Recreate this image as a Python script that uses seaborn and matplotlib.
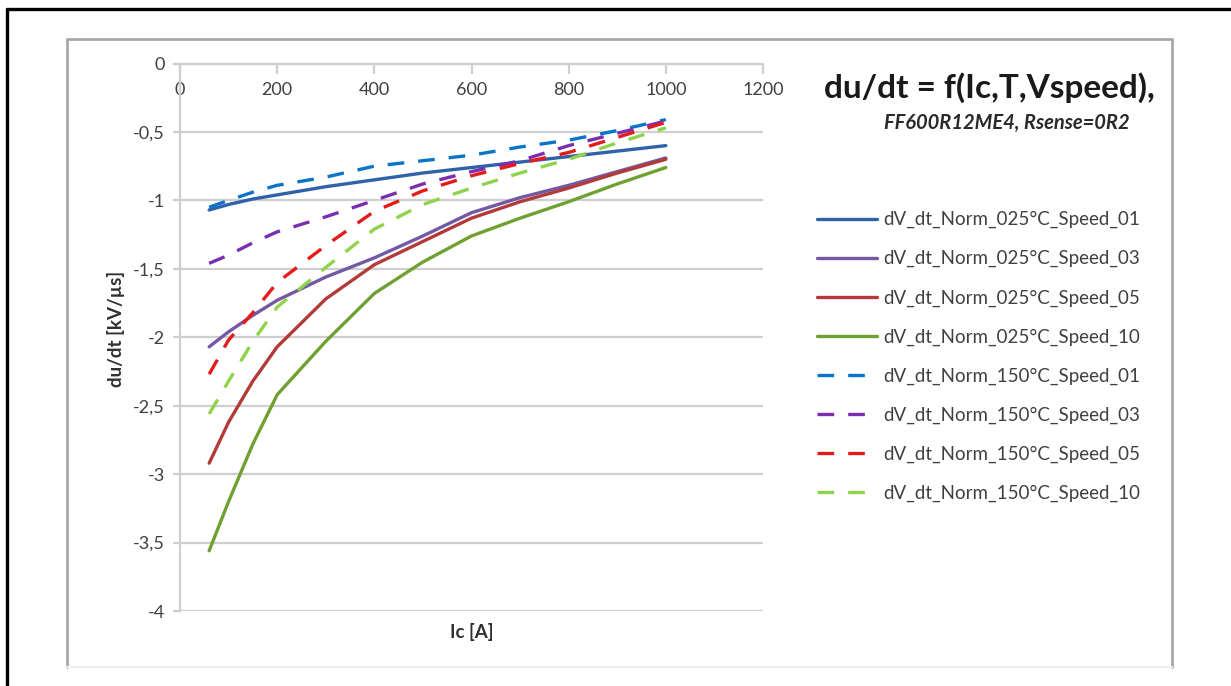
import matplotlib
matplotlib.use("Agg")
import matplotlib.pyplot as plt
import seaborn as sns
import pandas as pd
from matplotlib.lines import Line2D

# ---------------- data ----------------
ic = [60, 100, 150, 200, 300, 400, 500, 600, 700, 800, 900, 1000]

s025_01 = [-1.07, -1.03, -0.99, -0.96, -0.90, -0.85, -0.80, -0.76, -0.72, -0.68, -0.64, -0.60]
s025_03 = [-2.07, -1.96, -1.84, -1.73, -1.56, -1.42, -1.26, -1.09, -0.98, -0.89, -0.79, -0.69]
s025_05 = [-2.92, -2.62, -2.32, -2.07, -1.72, -1.47, -1.30, -1.13, -1.01, -0.91, -0.80, -0.70]
s025_10 = [-3.56, -3.20, -2.78, -2.42, -2.03, -1.68, -1.45, -1.26, -1.13, -1.01, -0.88, -0.76]
s150_01 = [-1.05, -1.00, -0.94, -0.89, -0.83, -0.75, -0.71, -0.67, -0.61, -0.56, -0.49, -0.41]
s150_03 = [-1.46, -1.40, -1.31, -1.23, -1.12, -1.00, -0.88, -0.79, -0.71, -0.60, -0.51, -0.42]
s150_05 = [-2.27, -2.02, -1.82, -1.60, -1.33, -1.08, -0.93, -0.82, -0.73, -0.65, -0.54, -0.43]
s150_10 = [-2.56, -2.32, -2.03, -1.78, -1.49, -1.21, -1.03, -0.91, -0.80, -0.70, -0.58, -0.47]

series_names = [
    "dV_dt_Norm_025°C_Speed_01",
    "dV_dt_Norm_025°C_Speed_03",
    "dV_dt_Norm_025°C_Speed_05",
    "dV_dt_Norm_025°C_Speed_10",
    "dV_dt_Norm_150°C_Speed_01",
    "dV_dt_Norm_150°C_Speed_03",
    "dV_dt_Norm_150°C_Speed_05",
    "dV_dt_Norm_150°C_Speed_10",
]
series_values = [s025_01, s025_03, s025_05, s025_10, s150_01, s150_03, s150_05, s150_10]

xticks = [0, 200, 400, 600, 800, 1000, 1200]
xtick_labels = ["0", "200", "400", "600", "800", "1000", "1200"]
yticks = [0, -0.5, -1, -1.5, -2, -2.5, -3, -3.5, -4]
ytick_labels = ["0", "-0,5", "-1", "-1,5", "-2", "-2,5", "-3", "-3,5", "-4"]

title = "du/dt = f(Ic,T,Vspeed),"
subtitle = "FF600R12ME4, Rsense=0R2"
xlabel = "Ic [A]"
ylabel = "du/dt [kV/µs]"

colors = ["#2F62A8", "#7458A3", "#B23B3A", "#70A032",
          "#0A74C8", "#7A2FB0", "#E41B1B", "#8FD24B"]

# ---------------- figure ----------------
sns.set_theme(style="white")
plt.rcParams["font.family"] = ["Lato", "DejaVu Sans"]

W, H = 1231, 686
fig = plt.figure(figsize=(W / 100, H / 100), dpi=100)

# outer black frame (top + left) and grey chart frame
fig.add_artist(Line2D([7 / W, 1], [1 - 9 / H, 1 - 9 / H], transform=fig.transFigure, color="black", lw=2.4))
fig.add_artist(Line2D([7 / W, 7 / W], [0, 1 - 9 / H], transform=fig.transFigure, color="black", lw=2.4))
fig.add_artist(Line2D([67 / W, 67 / W, 1172 / W, 1172 / W],
                      [1 - 667 / H, 1 - 39 / H, 1 - 39 / H, 1 - 667 / H],
                      transform=fig.transFigure, color="#A8A8A8", lw=2.0))
fig.add_artist(Line2D([67 / W, 1172 / W], [1 - 667 / H, 1 - 667 / H],
                      transform=fig.transFigure, color="#EFEFEF", lw=1.5))

ax = fig.add_axes([180 / W, 1 - 611 / H, (763 - 180) / W, (611 - 63.5) / H])

rows = []
for name, vals in zip(series_names, series_values):
    for x, y in zip(ic, vals):
        rows.append({"Ic": x, "dudt": y, "series": name})
df = pd.DataFrame(rows)

palette = dict(zip(series_names, colors))
dashes = {n: ("" if "025" in n else (5.0, 4.2)) for n in series_names}

sns.lineplot(data=df, x="Ic", y="dudt", hue="series", style="series",
             palette=palette, dashes=dashes, linewidth=2.4, ax=ax, legend=True)

ax.set_xlim(0, 1200)
ax.set_ylim(-4, 0)

ax.set_xticks(xticks)
ax.set_xticklabels(xtick_labels)
ax.set_yticks(yticks)
ax.set_yticklabels(ytick_labels)

grid_c = "#CFCFCF"
ax.yaxis.grid(True, color=grid_c, lw=1.6)
ax.xaxis.grid(False)
for s in ["top", "right"]:
    ax.spines[s].set_visible(False)
ax.spines["left"].set_color(grid_c)
ax.spines["left"].set_linewidth(1.6)
ax.spines["bottom"].set_position(("data", 0))
ax.spines["bottom"].set_color(grid_c)
ax.spines["bottom"].set_linewidth(1.6)
ax.set_axisbelow(True)

ax.tick_params(axis="x", direction="out", length=7, width=1.6, color=grid_c,
               labelsize=13, labelcolor="#404040", pad=6, bottom=True)
ax.tick_params(axis="y", direction="out", length=5, width=1.6, color=grid_c,
               labelsize=13, labelcolor="#404040", pad=6, left=True)

ax.set_xlabel(xlabel, fontsize=13.5, fontweight="bold", color="#303030")
ax.set_ylabel(ylabel, fontsize=13.5, fontweight="bold", color="#303030")
ax.xaxis.set_label_coords(0.5, -0.022)
ax.yaxis.set_label_coords(-0.095, 0.515)

# legend
handles, labels = ax.get_legend_handles_labels()
ax.get_legend().remove()
leg = fig.legend(handles, labels, loc="upper left",
                 bbox_to_anchor=(817 / W, 1 - 211 / H), frameon=False,
                 fontsize=13.5, handlelength=3.2, handletextpad=0.35,
                 labelspacing=1.16, borderaxespad=0, borderpad=0)
for t in leg.get_texts():
    t.set_color("#404040")

fig.text(989 / W, 1 - 88 / H, title, ha="center", va="center",
         fontsize=24, fontweight="bold", color="#1a1a1a")
fig.text(1007 / W, 1 - 123 / H, subtitle, ha="center", va="center",
         fontsize=14.5, fontweight="bold", style="italic", color="#2a2a2a")

fig.savefig("out.png", dpi=100)
